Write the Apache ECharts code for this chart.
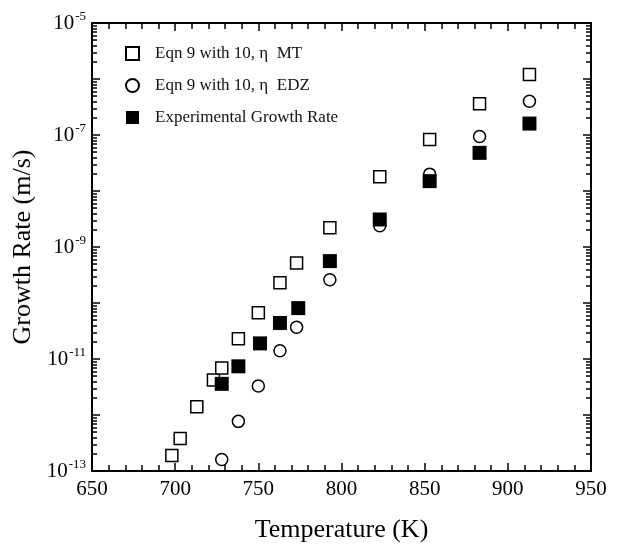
<!DOCTYPE html>
<html>
<head>
<meta charset="utf-8">
<script src="https://cdn.jsdelivr.net/npm/echarts@6/dist/echarts.min.js"></script>
<style>
  html, body { margin: 0; padding: 0; background: #fff; }
  #chart { width: 622px; height: 548px; }
</style>
</head>
<body>
<div id="chart"></div>
<script>
// temperatures (K) and growth rates (m/s)
const tempMT = [698, 703, 713, 723, 728, 738, 750, 763, 773, 793, 823, 853, 883, 913]
const rateMT = [1.9e-13, 3.8e-13, 1.4e-12, 4.2e-12, 6.9e-12, 2.3e-11, 6.7e-11, 2.3e-10, 5.2e-10, 2.2e-9, 1.8e-8, 8.3e-8, 3.6e-7, 1.2e-6]
const tempEDZ = [728, 738, 750, 763, 773, 793, 823, 853, 883, 913]
const rateEDZ = [1.6e-13, 7.7e-13, 3.3e-12, 1.4e-11, 3.7e-11, 2.6e-10, 2.4e-9, 2.0e-8, 9.4e-8, 4.0e-7]
const tempExp = [728, 738, 751, 763, 774, 793, 823, 853, 883, 913]
const rateExp = [3.6e-12, 7.4e-12, 1.9e-11, 4.4e-11, 8.1e-11, 5.6e-10, 3.1e-9, 1.5e-8, 4.8e-8, 1.6e-7]

const seriesNames = ['Eqn 9 with 10, η  MT', 'Eqn 9 with 10, η  EDZ', 'Experimental Growth Rate']
const decadeExps = [-13, -12, -11, -10, -9, -8, -7, -6, -5]
const labelExps = [-13, -11, -9, -7, -5]

const FONT = 'Liberation Serif'
const decades = decadeExps.map(e => Number('1e' + e))
const labelVals = labelExps.map(e => Number('1e' + e))
const minorVals = []
decadeExps.slice(0, -1).forEach(e => {
  for (let k = 2; k <= 9; k++) minorVals.push(Number(k + 'e' + e))
})

const pair = (xs, ys) => xs.map((x, i) => [x, ys[i]])

function xAxisOf(pos, labels) {
  return {
    type: 'value', position: pos, min: 650, max: 950, interval: 50,
    name: labels ? 'Temperature (K)' : '',
    nameLocation: 'middle', nameGap: 46,
    nameTextStyle: { fontFamily: FONT, fontSize: 26, color: '#000' },
    axisLine: { show: true, onZero: false, lineStyle: { color: '#000', width: 2 } },
    axisTick: { inside: true, length: 8, lineStyle: { color: '#000', width: 1.5 } },
    minorTick: { show: true, splitNumber: 5, length: 6, lineStyle: { color: '#000', width: 1.5 } },
    axisLabel: { show: labels, margin: 8, fontFamily: FONT, fontSize: 21, color: '#000' },
    splitLine: { show: false }
  }
}

function yAxisOf(pos, major, labels) {
  return {
    type: 'log', logBase: 10, position: pos, min: 1e-13, max: 1e-5,
    name: labels ? 'Growth Rate (m/s)' : '',
    nameLocation: 'middle', nameGap: 46,
    nameTextStyle: { fontFamily: FONT, fontSize: 26, color: '#000' },
    axisLine: { show: major, onZero: false, lineStyle: { color: '#000', width: 2 } },
    axisTick: {
      inside: true, length: major ? 8 : 5,
      customValues: major ? decades : minorVals,
      lineStyle: { color: '#000', width: 1.5 }
    },
    axisLabel: {
      show: labels, margin: 6, customValues: labelVals,
      formatter: v => '{b|10}{s|' + Math.round(Math.log10(v)) + '}',
      rich: {
        b: { fontFamily: FONT, fontSize: 21, color: '#000' },
        s: { fontFamily: FONT, fontSize: 13, color: '#000', padding: [0, 0, 12, 1] }
      }
    },
    splitLine: { show: false },
    minorSplitLine: { show: false }
  }
}

const openStyle = { color: '#fff', borderColor: '#000', borderWidth: 1.5, opacity: 1 }

const chart = echarts.init(document.getElementById('chart'), null, { renderer: 'canvas' })
chart.setOption({
  animation: false,
  backgroundColor: '#fff',
  grid: { left: 92, top: 23, width: 499, height: 449, containLabel: false },
  legend: {
    orient: 'vertical', left: 120, top: 40,
    itemWidth: 13, itemHeight: 13, itemGap: 15,
    textStyle: { fontFamily: FONT, fontSize: 17, color: '#111', padding: [0, 0, 0, 11], lineHeight: 17 },
    data: seriesNames
  },
  xAxis: [xAxisOf('bottom', true), xAxisOf('top', false)],
  yAxis: [yAxisOf('left', true, true), yAxisOf('right', true, false), yAxisOf('left', false, false), yAxisOf('right', false, false)],
  series: [
    { name: seriesNames[0], type: 'scatter', symbol: 'rect', symbolSize: 12, itemStyle: openStyle, data: pair(tempMT, rateMT) },
    { name: seriesNames[1], type: 'scatter', symbol: 'circle', symbolSize: 12, itemStyle: openStyle, data: pair(tempEDZ, rateEDZ) },
    { name: seriesNames[2], type: 'scatter', symbol: 'rect', symbolSize: 14, itemStyle: { color: '#000', opacity: 1 }, data: pair(tempExp, rateExp) }
  ]
})
</script>
</body>
</html>
